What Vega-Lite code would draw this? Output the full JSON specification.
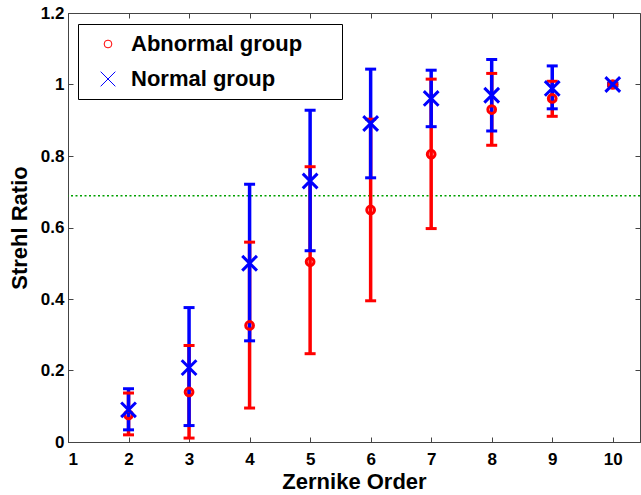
{
  "$schema": "https://vega.github.io/schema/vega-lite/v6.json",
  "width": 572,
  "height": 429,
  "autosize": "none",
  "padding": {"left": 68, "top": 13, "right": 1, "bottom": 53},
  "background": "white",
  "config": {
    "view": {"stroke": "#444444", "strokeWidth": 1},
    "font": "Liberation Sans",
    "axis": {
      "grid": false,
      "domainColor": "#444444",
      "tickColor": "#444444",
      "tickSize": -5,
      "labelFont": "Liberation Sans",
      "labelFontSize": 17,
      "labelFontWeight": "bold",
      "labelColor": "black",
      "titleFont": "Liberation Sans",
      "titleFontSize": 22,
      "titleFontWeight": "bold",
      "titleColor": "black"
    }
  },
  "datasets": {
    "stats": [
      {"order": 2, "group": "Abnormal group", "mean": 0.076, "lo": 0.020, "hi": 0.137},
      {"order": 3, "group": "Abnormal group", "mean": 0.140, "lo": 0.011, "hi": 0.270},
      {"order": 4, "group": "Abnormal group", "mean": 0.326, "lo": 0.095, "hi": 0.559},
      {"order": 5, "group": "Abnormal group", "mean": 0.504, "lo": 0.247, "hi": 0.770},
      {"order": 6, "group": "Abnormal group", "mean": 0.649, "lo": 0.395, "hi": 0.903},
      {"order": 7, "group": "Abnormal group", "mean": 0.805, "lo": 0.597, "hi": 1.015},
      {"order": 8, "group": "Abnormal group", "mean": 0.930, "lo": 0.830, "hi": 1.031},
      {"order": 9, "group": "Abnormal group", "mean": 0.961, "lo": 0.911, "hi": 1.009},
      {"order": 10, "group": "Abnormal group", "mean": 1.0, "lo": 0.996, "hi": 1.004},
      {"order": 2, "group": "Normal group", "mean": 0.090, "lo": 0.034, "hi": 0.149},
      {"order": 3, "group": "Normal group", "mean": 0.208, "lo": 0.046, "hi": 0.376},
      {"order": 4, "group": "Normal group", "mean": 0.500, "lo": 0.283, "hi": 0.721},
      {"order": 5, "group": "Normal group", "mean": 0.730, "lo": 0.535, "hi": 0.928},
      {"order": 6, "group": "Normal group", "mean": 0.891, "lo": 0.739, "hi": 1.043},
      {"order": 7, "group": "Normal group", "mean": 0.961, "lo": 0.882, "hi": 1.040},
      {"order": 8, "group": "Normal group", "mean": 0.970, "lo": 0.870, "hi": 1.070},
      {"order": 9, "group": "Normal group", "mean": 0.989, "lo": 0.932, "hi": 1.052},
      {"order": 10, "group": "Normal group", "mean": 1.0, "lo": 0.997, "hi": 1.003}
    ],
    "ref": [{"y": 0.689}]
  },
  "resolve": {"axis": {"x": "independent", "y": "independent"}, "scale": {"color": "independent"}, "legend": {"color": "independent", "shape": "independent"}},
  "layer": [
    {
      "data": {"name": "ref"},
      "mark": {"type": "rule", "color": "#00a000", "strokeWidth": 1.5, "strokeDash": [2, 2.5]},
      "encoding": {
        "y": {"field": "y", "type": "quantitative", "scale": {"domain": [0, 1.2], "nice": false, "zero": false}, "axis": null}
      }
    },
    {
      "data": {"name": "stats"},
      "mark": {"type": "rule", "strokeWidth": 3.5, "opacity": 1},
      "encoding": {
        "x": {"field": "order", "type": "quantitative", "scale": {"domain": [1, 10.45], "nice": false, "zero": false}, "axis": null},
        "y": {"field": "lo", "type": "quantitative", "axis": null},
        "y2": {"field": "hi"},
        "color": {"field": "group", "type": "nominal", "scale": {"domain": ["Abnormal group", "Normal group"], "range": ["#ff0000", "#0000ff"]}, "legend": null}
      }
    },
    {
      "data": {"name": "stats"},
      "mark": {"type": "tick", "orient": "horizontal", "size": 11, "thickness": 3, "opacity": 1},
      "encoding": {
        "x": {"field": "order", "type": "quantitative", "axis": null},
        "y": {"field": "lo", "type": "quantitative", "axis": null},
        "color": {"field": "group", "type": "nominal", "scale": {"domain": ["Abnormal group", "Normal group"], "range": ["#ff0000", "#0000ff"]}, "legend": null}
      }
    },
    {
      "data": {"name": "stats"},
      "mark": {"type": "tick", "orient": "horizontal", "size": 11, "thickness": 3, "opacity": 1},
      "encoding": {
        "x": {"field": "order", "type": "quantitative", "axis": null},
        "y": {"field": "hi", "type": "quantitative", "axis": null},
        "color": {"field": "group", "type": "nominal", "scale": {"domain": ["Abnormal group", "Normal group"], "range": ["#ff0000", "#0000ff"]}, "legend": null}
      }
    },
    {
      "data": {"name": "stats"},
      "mark": {"type": "point", "filled": false, "strokeWidth": 3, "size": 60, "opacity": 1},
      "encoding": {
        "x": {
          "field": "order", "type": "quantitative",
          "axis": {"orient": "bottom", "values": [1, 2, 3, 4, 5, 6, 7, 8, 9, 10], "labelPadding": 14, "title": "Zernike Order", "titleBaseline": "alphabetic", "titleY": 46, "titleX": 286}
        },
        "y": {
          "field": "mean", "type": "quantitative",
          "axis": {"orient": "left", "values": [0, 0.2, 0.4, 0.6, 0.8, 1, 1.2], "format": "~g", "labelPadding": 9, "title": "Strehl Ratio", "titleBaseline": "alphabetic", "titleX": -42, "titleY": 214.5, "titleAngle": -90, "titleAlign": "center"}
        },
        "color": {
          "field": "group", "type": "nominal",
          "scale": {"domain": ["Abnormal group", "Normal group"], "range": ["#ff0000", "#0000ff"]},
          "legend": {"title": null, "orient": "none", "legendX": 10, "legendY": 11, "padding": 9, "strokeColor": "black", "fillColor": "white", "labelFont": "Liberation Sans", "labelFontSize": 22, "labelFontWeight": "bold", "labelColor": "black", "labelLimit": 400, "symbolStrokeWidth": 1, "symbolSize": 60, "rowPadding": 13, "symbolOffset": 10, "labelOffset": 12, "labelExpr": "datum.label + '\u00a0\u00a0\u00a0\u00a0\u00a0\u200b'"}
        },
        "shape": {
          "field": "group", "type": "nominal",
          "scale": {"domain": ["Abnormal group", "Normal group"], "range": ["circle", "M-1.9,-1.9L1.9,1.9M-1.9,1.9L1.9,-1.9"]},
          "legend": {"title": null, "orient": "none", "legendX": 10, "legendY": 11, "padding": 9, "strokeColor": "black", "fillColor": "white", "labelFont": "Liberation Sans", "labelFontSize": 22, "labelFontWeight": "bold", "labelColor": "black", "labelLimit": 400, "symbolStrokeWidth": 1, "symbolSize": 60, "rowPadding": 13, "symbolOffset": 10, "labelOffset": 12, "labelExpr": "datum.label + '\u00a0\u00a0\u00a0\u00a0\u00a0\u200b'"}
        }
      }
    },
    {
      "data": {"name": "stats"},
      "mark": {"type": "point", "opacity": 0},
      "encoding": {
        "x": {"field": "order", "type": "quantitative", "axis": {"orient": "top", "values": [1, 2, 3, 4, 5, 6, 7, 8, 9, 10], "labels": false, "title": null, "domain": false}},
        "y": {"field": "mean", "type": "quantitative", "axis": {"orient": "right", "values": [0, 0.2, 0.4, 0.6, 0.8, 1, 1.2], "labels": false, "title": null, "domain": false}}
      }
    }
  ]
}
